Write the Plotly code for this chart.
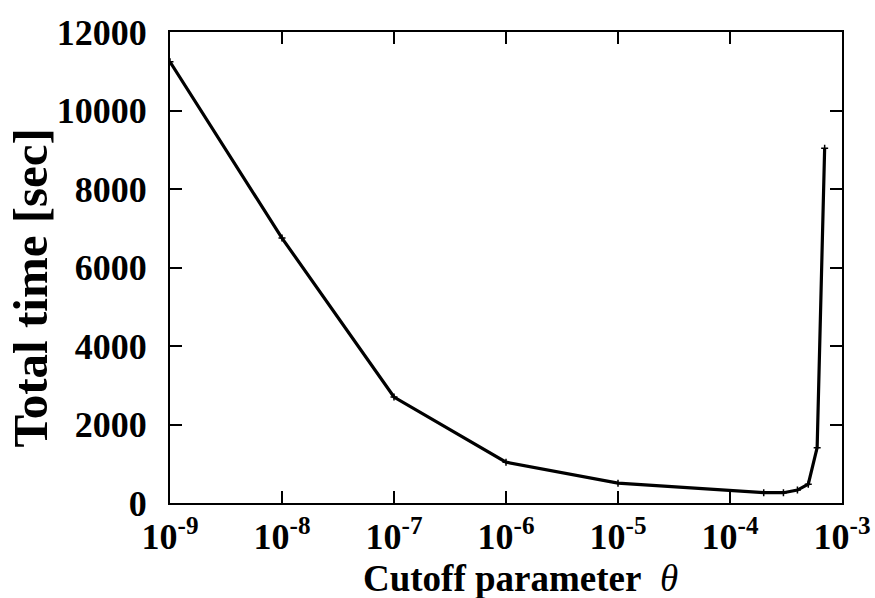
import plotly.graph_objects as go

# Cutoff parameter theta and total run time (seconds)
theta = [1e-9, 1e-8, 1e-7, 1e-6, 1e-5, 2e-4, 3e-4, 4e-4, 5e-4, 6e-4, 7e-4]
total_time = [11240, 6750, 2700, 1040, 505, 262, 262, 330, 480, 1410, 9040]

x_tick_vals = [1e-9, 1e-8, 1e-7, 1e-6, 1e-5, 1e-4, 1e-3]
x_tick_text = ["10<sup>-9</sup>", "10<sup>-8</sup>", "10<sup>-7</sup>", "10<sup>-6</sup>",
               "10<sup>-5</sup>", "10<sup>-4</sup>", "10<sup>-3</sup>"]
y_tick_vals = [0, 2000, 4000, 6000, 8000, 10000, 12000]
y_tick_text = ["0", "2000", "4000", "6000", "8000", "10000", "12000"]

FONT = "Liberation Serif"

fig = go.Figure()
fig.add_trace(go.Scatter(
    x=theta, y=total_time,
    mode="lines+markers",
    line=dict(color="black", width=3.2),
    marker=dict(symbol="cross-thin", size=5, color="black",
                line=dict(color="black", width=1.5)),
    showlegend=False,
))

axis_common = dict(
    showline=True, linecolor="black", linewidth=2,
    mirror="ticks", ticks="inside", ticklen=12, tickwidth=1.5,
    tickcolor="black", showgrid=False, zeroline=False, automargin=False,
    tickfont=dict(family=FONT, size=36, color="black", weight="bold"),
)

fig.update_xaxes(
    type="log", range=[-9, -3],
    tickmode="array", tickvals=x_tick_vals, ticktext=x_tick_text,
    ticklabelstandoff=1,
    **axis_common,
)
fig.update_yaxes(
    range=[0, 12000],
    tickmode="array", tickvals=y_tick_vals, ticktext=y_tick_text,
    ticklabelstandoff=14,
    **axis_common,
)

fig.add_annotation(
    text="<b>Cutoff parameter</b>  <i>θ</i>",
    xref="paper", yref="paper", x=0.521, y=-0.16,
    xanchor="center", yanchor="middle", showarrow=False,
    font=dict(family=FONT, size=37, color="black"),
)
fig.add_annotation(
    text="<b>Total time [sec]</b>",
    xref="paper", yref="paper", x=-0.207, y=0.4575,
    xanchor="center", yanchor="middle", showarrow=False, textangle=-90,
    font=dict(family=FONT, size=49, color="black"),
)

fig.update_layout(
    width=875, height=598,
    margin=dict(l=170, r=33, t=32, b=95),
    paper_bgcolor="white", plot_bgcolor="white",
)

fig.write_html("out.html")
